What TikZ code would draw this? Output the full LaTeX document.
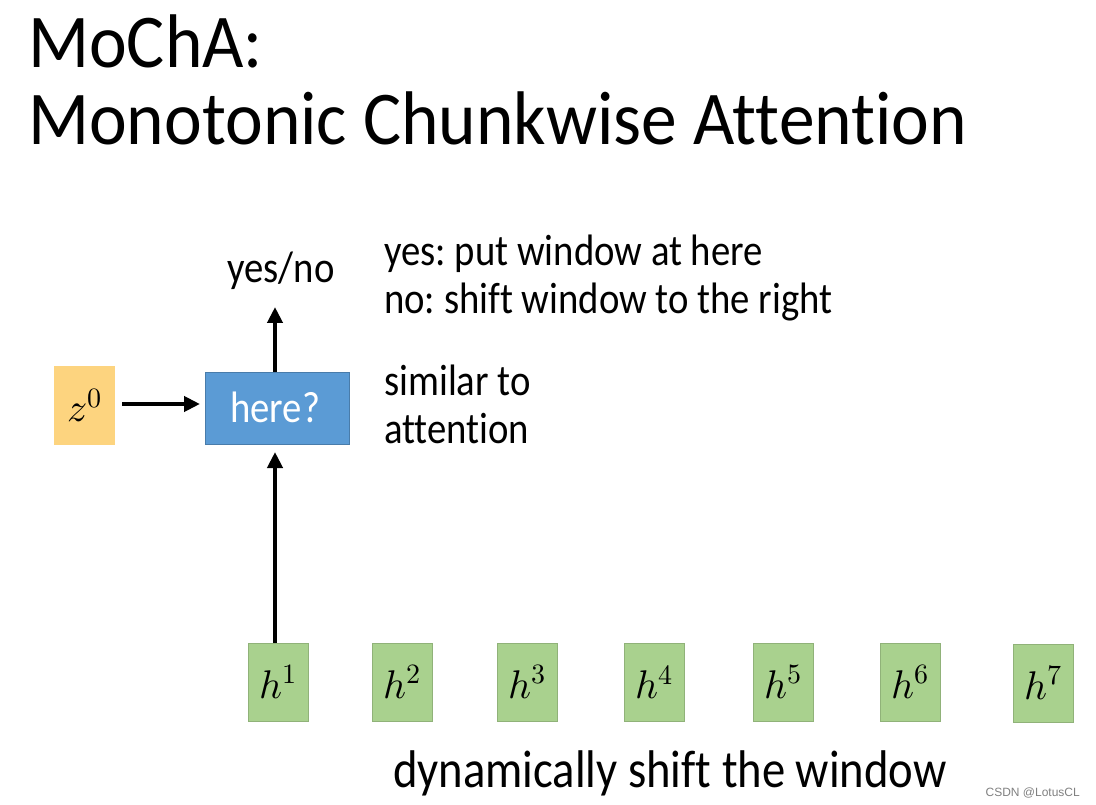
\documentclass[tikz,border=0pt]{standalone}
\usepackage{fontspec}
\usepackage{unicode-math}
\setmathfont{Latin Modern Math}
\setmainfont[FakeStretch=0.88,Ligatures={NoCommon}]{Carlito}
\newfontfamily\titlefont[FakeStretch=0.94,Ligatures={NoCommon}]{Carlito}
\newfontfamily\wmfont{Liberation Sans}
\usetikzlibrary{arrows.meta}
\definecolor{boxblue}{HTML}{5B9BD5}
\definecolor{boxorange}{HTML}{FDD47F}
\definecolor{boxgreen}{HTML}{A9D18E}
\frenchspacing
\begin{document}
\begin{tikzpicture}[x=1pt,y=-1pt,
  hbox/.style={draw=boxgreen!85!black, fill=boxgreen, minimum width=60pt, minimum height=78pt, inner sep=0pt, font=\fontsize{40}{44}\selectfont},
  zbox/.style={fill=boxorange, minimum width=61pt, minimum height=79pt, inner sep=0pt, font=\fontsize{40}{44}\selectfont},
  qbox/.style={draw=boxblue!80!black, fill=boxblue, minimum width=144pt, minimum height=72pt, inner sep=0pt},
  lbl/.style={anchor=base west, inner sep=0pt, font=\fontsize{44}{48}\selectfont},
  arr/.style={-{Triangle[length=16pt,width=15pt]}, line width=4pt}]
\useasboundingbox (0,0) rectangle (1096,805);
\node[anchor=base west, inner sep=0pt, font=\titlefont\fontsize{76}{80}\selectfont] (t1) at (28,68) {MoChA:};
\node[anchor=base west, inner sep=0pt, font=\titlefont\fontsize{76}{80}\selectfont] (t2) at (28,145) {Monotonic Chunkwise Attention};

\node[zbox] (z) at (84.5,405.5) {$z^0$};
\node[qbox] (q) at (277,408) {};
\node[anchor=base, inner sep=0pt, text=white, font=\fontsize{44}{48}\selectfont] (qt) at (275,422) {here?};
\node[anchor=base, inner sep=0pt, font=\fontsize{44}{48}\selectfont] (yn) at (281,283) {yes/no};
\coordinate (ynb) at (275,307);
\coordinate (zs) at (122,404);
\coordinate (qw) at (200,404);
\coordinate (qs) at (275,452);

\node[lbl] (y1) at (384,266) {yes: put window at here};
\node[lbl] (y2) at (384,313) {no: shift window to the right};
\node[lbl] (s1) at (384,395) {similar to};
\node[lbl] (s2) at (384,443) {attention};

\node[hbox] (h1) at (278,682) {$h^1$};
\node[hbox] (h2) at (402,682) {$h^2$};
\node[hbox] (h3) at (527,682) {$h^3$};
\node[hbox] (h4) at (654,682) {$h^4$};
\node[hbox] (h5) at (783,682) {$h^5$};
\node[hbox] (h6) at (910,682) {$h^6$};
\node[hbox] (h7) at (1043,683) {$h^7$};

\draw[arr] (zs) -- (qw);
\draw[arr] (q.north -| ynb) -- (ynb);
\draw[arr] (h1.north -| qs) -- (qs);

\node[anchor=base west, inner sep=0pt, font=\fontsize{53}{58}\selectfont] (dyn) at (393,787) {dynamically shift the window};
\node[anchor=base east, inner sep=0pt, text=black!50, font=\wmfont\fontsize{12}{14}\selectfont] (wm) at (1080,796) {CSDN @LotusCL};
\end{tikzpicture}
\end{document}
